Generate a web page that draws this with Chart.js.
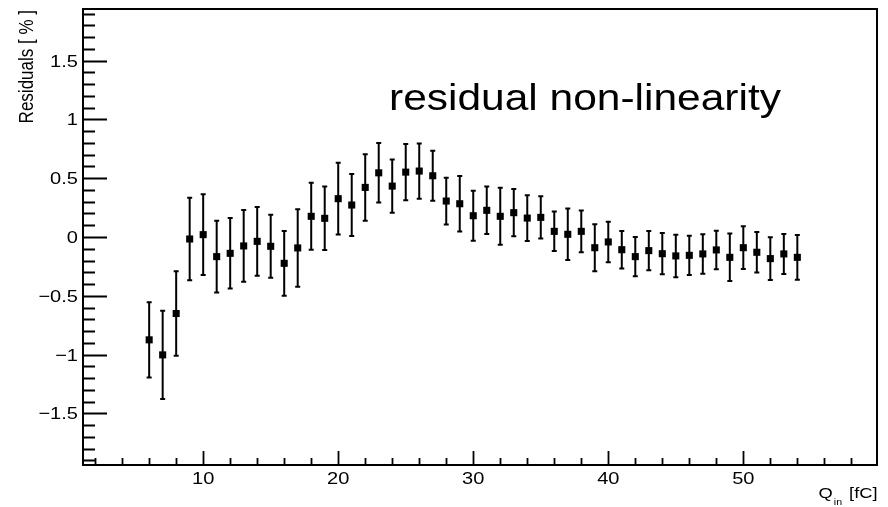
<!DOCTYPE html>
<html>
<head>
<meta charset="utf-8">
<title>residual non-linearity</title>
<script src="https://cdn.jsdelivr.net/npm/chart.js@4.4.1/dist/chart.umd.min.js"></script>
<style>
    html, body { margin: 0; padding: 0; background: #fff; }
    canvas { display: block; }
</style>
</head>
<body>
<canvas id="grafica-residuos" width="888" height="507"></canvas>
<script>
// injected charge [fC]
const qIn = [6, 7, 8, 9, 10, 11, 12, 13, 14, 15, 16, 17, 18, 19, 20, 21, 22, 23, 24, 25,
             26, 27, 28, 29, 30, 31, 32, 33, 34, 35, 36, 37, 38, 39, 40, 41, 42, 43, 44, 45,
             46, 47, 48, 49, 50, 51, 52, 53, 54];

// residuals of the linear fit [%]
const residuals = [-0.875, -1.003, -0.651, -0.017, 0.020, -0.167, -0.139, -0.076, -0.037, -0.079,
                   -0.224, -0.093, 0.176, 0.159, 0.326, 0.272, 0.422, 0.546, 0.433, 0.552,
                   0.561, 0.521, 0.306, 0.283, 0.181, 0.227, 0.176, 0.207, 0.161, 0.167,
                   0.048, 0.023, 0.048, -0.091, -0.042, -0.108, -0.167, -0.116, -0.142, -0.161,
                   -0.156, -0.144, -0.110, -0.173, -0.091, -0.130, -0.184, -0.144, -0.173];

const residualErrors = [0.320, 0.375, 0.360, 0.352, 0.343, 0.305, 0.300, 0.305, 0.293, 0.268,
                        0.275, 0.330, 0.285, 0.270, 0.305, 0.263, 0.283, 0.253, 0.227, 0.239,
                        0.235, 0.213, 0.199, 0.236, 0.213, 0.202, 0.243, 0.201, 0.195, 0.179,
                        0.168, 0.219, 0.178, 0.200, 0.172, 0.160, 0.167, 0.167, 0.175, 0.181,
                        0.167, 0.168, 0.164, 0.202, 0.182, 0.173, 0.182, 0.170, 0.190];

const xTicks = [10, 20, 30, 40, 50];
const yTicks = [-1.5, -1, -0.5, 0, 0.5, 1, 1.5];

const FUENTE = '"Liberation Sans", Arial, Helvetica, sans-serif';
const SX = 1.18; // horizontal stretch of the text

function textoEstirado(ctx, texto, x, y, align, size) {
    ctx.save();
    ctx.font = size + 'px ' + FUENTE;
    ctx.translate(x, y);
    ctx.scale(SX, 1);
    ctx.textAlign = align;
    ctx.textBaseline = 'alphabetic';
    ctx.fillText(texto, 0, 0);
    ctx.restore();
}

function formatoTick(v) {
    return String(v).replace('-', '\u2212');
}

const barrasError = {
    id: 'barrasError',
    beforeDatasetsDraw(chart) {
        const ctx = chart.ctx;
        const sx = chart.scales.x;
        const sy = chart.scales.y;
        ctx.save();
        ctx.strokeStyle = '#000';
        ctx.lineWidth = 2;
        for (let i = 0; i < qIn.length; i++) {
            const px = sx.getPixelForValue(qIn[i]);
            const arriba = sy.getPixelForValue(residuals[i] + residualErrors[i]);
            const abajo = sy.getPixelForValue(residuals[i] - residualErrors[i]);
            ctx.beginPath();
            ctx.moveTo(px, arriba);
            ctx.lineTo(px, abajo);
            ctx.moveTo(px - 2.5, arriba);
            ctx.lineTo(px + 2.5, arriba);
            ctx.moveTo(px - 2.5, abajo);
            ctx.lineTo(px + 2.5, abajo);
            ctx.stroke();
        }
        ctx.restore();
    }
};

const marcoEjes = {
    id: 'marcoEjes',
    afterDraw(chart) {
        const ctx = chart.ctx;
        const area = chart.chartArea;
        const sx = chart.scales.x;
        const sy = chart.scales.y;
        ctx.save();
        ctx.strokeStyle = '#000';
        ctx.fillStyle = '#000';

        // frame
        ctx.lineWidth = 2;
        ctx.strokeRect(area.left, area.top, area.right - area.left, area.bottom - area.top);

        // ticks drawn inside the frame
        ctx.lineWidth = 1.8;
        ctx.beginPath();
        for (let k = -19; k <= 19; k++) {
            const v = k / 10;
            if (v < sy.min || v > sy.max) continue;
            const py = Math.round(sy.getPixelForValue(v)) + 0.5;
            const largo = (k % 5 === 0) ? 24 : 12;
            ctx.moveTo(area.left, py);
            ctx.lineTo(area.left + largo, py);
        }
        for (let v = 2; v < sx.max; v += 2) {
            if (v < sx.min) continue;
            const px = Math.round(sx.getPixelForValue(v)) + 0.5;
            const largo = (v % 10 === 0) ? 14 : 7;
            ctx.moveTo(px, area.bottom);
            ctx.lineTo(px, area.bottom - largo);
        }
        ctx.stroke();

        // tick labels
        sy.ticks.forEach(t => {
            const py = sy.getPixelForValue(t.value);
            textoEstirado(ctx, formatoTick(t.value), area.left - 5, py + 6, 'right', 17);
        });
        sx.ticks.forEach(t => {
            const px = sx.getPixelForValue(t.value);
            textoEstirado(ctx, formatoTick(t.value), px, area.bottom + 18.5, 'center', 17);
        });

        // y axis title, rotated and aligned with the top of the frame
        ctx.save();
        ctx.font = '17px ' + FUENTE;
        ctx.translate(32.5, area.top + 1);
        ctx.rotate(-Math.PI / 2);
        ctx.scale(1, SX);
        ctx.textAlign = 'right';
        ctx.textBaseline = 'alphabetic';
        ctx.fillText('Residuals [ % ]', 0, 0);
        ctx.restore();

        // x axis title Q_in [fC], right aligned with the frame
        ctx.save();
        ctx.font = '15.5px ' + FUENTE;
        const wCorchete = ctx.measureText('[fC]').width * SX;
        ctx.font = '9px ' + FUENTE;
        const wSub = ctx.measureText('in').width * SX;
        ctx.restore();
        const finX = area.right + 0.5;
        const baseX = 498;
        textoEstirado(ctx, '[fC]', finX, baseX, 'right', 15.5);
        const xSub = finX - wCorchete - 7;
        textoEstirado(ctx, 'in', xSub, baseX + 7, 'right', 9);
        textoEstirado(ctx, 'Q', xSub - wSub - 1, baseX, 'right', 15.5);

        // plot label
        textoEstirado(ctx, 'residual non-linearity', 389, 109.5, 'left', 36);

        ctx.restore();
    }
};

const ctx = document.getElementById('grafica-residuos').getContext('2d');

const config = {
    type: 'scatter',
    data: {
        datasets: [{
            data: qIn.map((q, i) => ({ x: q, y: residuals[i] })),
            pointStyle: 'rect',
            pointRadius: 5,
            pointHoverRadius: 5,
            backgroundColor: '#000',
            borderWidth: 0,
            showLine: false
        }]
    },
    options: {
        responsive: false,
        animation: false,
        events: [],
        layout: { padding: { left: 0, top: 9, right: 11, bottom: 0 } },
        plugins: {
            legend: { display: false },
            tooltip: { enabled: false }
        },
        scales: {
            x: {
                type: 'linear',
                min: 1.1,
                max: 59.9,
                grid: { display: false, drawTicks: false },
                border: { display: false },
                ticks: { display: false },
                afterBuildTicks: s => { s.ticks = xTicks.map(v => ({ value: v })); },
                afterFit: s => { s.height = 42; }
            },
            y: {
                type: 'linear',
                min: -1.94,
                max: 1.94,
                grid: { display: false, drawTicks: false },
                border: { display: false },
                ticks: { display: false },
                afterBuildTicks: s => { s.ticks = yTicks.map(v => ({ value: v })); },
                afterFit: s => { s.width = 83; }
            }
        }
    },
    plugins: [barrasError, marcoEjes]
};

new Chart(ctx, config);
</script>
</body>
</html>
